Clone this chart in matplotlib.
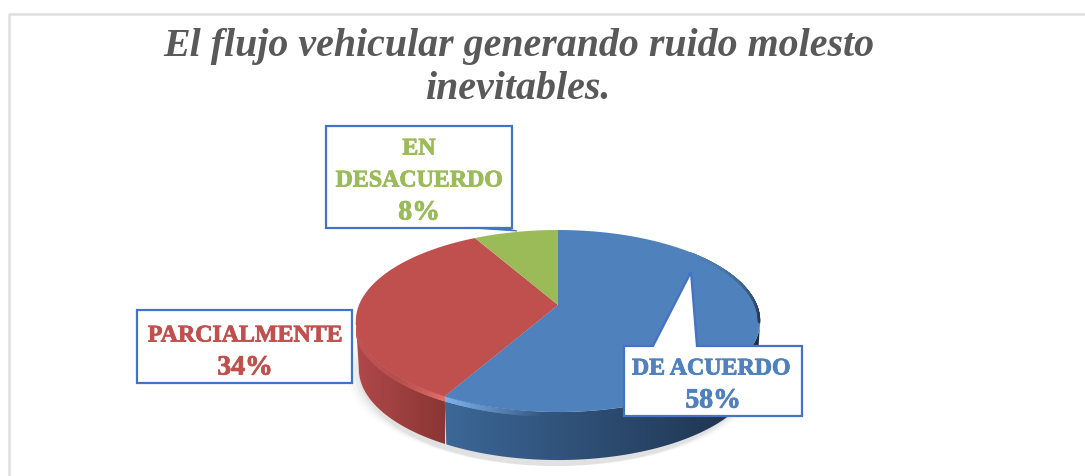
import numpy as np
import matplotlib
matplotlib.use("Agg")
import matplotlib.pyplot as plt
import matplotlib.patheffects as pe
from matplotlib.colors import to_rgb
from matplotlib.patches import Ellipse, Polygon

# datos de la encuesta
categorias = ["DE ACUERDO", "PARCIALMENTE", "EN DESACUERDO"]
porcentajes = [58, 34, 8]
colores = ["#4f81bd", "#c0504d", "#9bbb59"]
lados_claro = ["#3c6797", "#b0484a", "#8aa64e"]
lados_oscuro = ["#1c2f48", "#8a3634", "#6f8a3c"]
titulo = "El flujo vehicular generando ruido molesto\ninevitables."

W, H = 1085, 477
fig = plt.figure(figsize=(W / 100, H / 100), dpi=100)
ax = fig.add_axes([0, 0, 1, 1])

# geometria del pastel (perspectiva simple)
cx, cy = 558, 306
R, A, k = 199, 88.2, 0.176
grosor = 48


def rim(theta, baja=0):
    s, c = np.sin(theta), np.cos(theta)
    w = 1 + k * c
    x = cx + R * s / w
    if baja:
        x = cx + (x - cx) * 0.985
    return x, cy - A * c / w + baja


def mezcla(a, b, f):
    a, b = np.array(to_rgb(a)), np.array(to_rgb(b))
    return tuple(a + (b - a) * np.clip(f, 0, 1))


# marco del grafico
ax.plot([9, 9, W], [H, 15, 15], color="#dedede", lw=1.8, zorder=0)

# sombra debajo del pastel
for ancho, alfa in [(420, 0.025), (412, 0.035), (404, 0.05), (396, 0.07)]:
    ax.add_patch(Ellipse((556, 372), ancho, 190, color="#555555", alpha=alfa, lw=0, zorder=1))

acum = np.cumsum([0] + porcentajes) / 100 * 2 * np.pi

# pared lateral con degradado horizontal
tramos = [(445, 770), (356, 445)]
paredes = []
for i in range(2):
    thetas = np.linspace(acum[i], acum[i + 1], 400)
    thetas = thetas[np.cos(thetas) <= -k]  # solo hasta la tangente vertical
    xa, ya = rim(thetas)
    xb, yb = rim(thetas, grosor)
    pared = Polygon(np.c_[np.r_[xa, xb[::-1]], np.r_[ya, yb[::-1]]], transform=ax.transData,
                    facecolor="none", edgecolor="none")
    ax.add_patch(pared)
    paredes.append(pared)
    grad = np.array([mezcla(lados_claro[i], lados_oscuro[i], f) for f in np.linspace(0, 1, 64)])[None, :, :]
    im = ax.imshow(grad, extent=(tramos[i][0], tramos[i][1], H, 0), aspect="auto", zorder=2,
                   interpolation="bilinear")
    im.set_clip_path(pared)

# bisel del borde frontal, colores opacos para que no se vean costuras
thetas = np.linspace(np.pi * 1.0, 2 * np.pi - np.arccos(-k), 220)
for t0, t1 in zip(thetas[:-1], thetas[1:]):
    x, y = rim(np.array([t0, t1]))
    if (t0 + t1) / 2 > acum[1]:
        base = mezcla(lados_claro[1], lados_oscuro[1], (x[0] - 356) / 89)
        alfa = max(0.3, 1 - abs(x[0] - 445) / 70)
        col = mezcla(base, "#e8706c", alfa)
        pared = paredes[1]
    else:
        base = mezcla(lados_claro[0], lados_oscuro[0], (x[0] - 445) / 325)
        alfa = max(0, 1 - abs(x[0] - 445) / 95)
        col = mezcla(base, "#7fb0e8", alfa)
        pared = paredes[0]
    linea, = ax.plot(x, y + 2.5, color=col, lw=3.5, zorder=2.5, solid_capstyle="round")
    linea.set_clip_path(pared)

# cara superior
caras = []
for i in range(3):
    thetas = np.linspace(acum[i], acum[i + 1], 120)
    xs, ys = rim(thetas)
    caras += ax.fill(np.r_[cx, xs], np.r_[cy, ys], color=colores[i], lw=0, zorder=3)

# sombra oscura en el borde derecho, recortada a la cara azul
thetas = np.linspace(0.85, np.arccos(-k), 100)
for t0, t1 in zip(thetas[:-1], thetas[1:]):
    x, y = rim(np.array([t0, t1]))
    alfa = ((t0 - 0.85) / (thetas[-1] - 0.85)) ** 1.5 * 0.85
    linea, = ax.plot(x, y, color=mezcla(colores[0], "#1c2a3e", alfa), lw=3.5, zorder=4, solid_capstyle="round")
    linea.set_clip_path(caras[0])

# etiquetas con recuadro
borde = "#4472c4"
fuente = "Liberation Serif"


def caja(pts):
    xs, ys = zip(*pts)
    ax.fill(xs, ys, facecolor="white", edgecolor=borde, lw=1.6, zorder=5, joinstyle="miter")


caja([(326, 127), (512, 127), (512, 229), (326, 229)])
ax.fill([465, 517, 500], [228.5, 232, 228.5], facecolor=borde, edgecolor=borde, lw=0.8, zorder=6)
caja([(137, 311), (352, 311), (352, 384), (137, 384)])
caja([(624, 347), (653, 347), (691, 273), (697, 347), (802, 347), (802, 417), (624, 417)])

nombre = dict(ha="center", va="center", family=fuente, weight="bold", fontsize=17.2, zorder=7)
valor = dict(ha="center", va="center", family=fuente, weight="bold", fontsize=20, zorder=7)
etiquetas = [
    ax.text(419, 150, "EN", color=colores[2], **nombre),
    ax.text(419, 182, "DESACUERDO", color=colores[2], **nombre),
    ax.text(419, 214, f"{porcentajes[2]}%", color=colores[2], **valor),
    ax.text(245, 337, categorias[1], color=colores[1], **nombre),
    ax.text(245, 369, f"{porcentajes[1]}%", color=colores[1], **valor),
    ax.text(711, 370, categorias[0], color=colores[0], **nombre),
    ax.text(713, 402, f"{porcentajes[0]}%", color=colores[0], **valor),
]
for t in etiquetas:
    t.set_path_effects([pe.withStroke(linewidth=0.6, foreground=t.get_color())])

ax.text(519, 68, titulo, ha="center", va="center", family=fuente, weight="bold", style="italic",
        fontsize=28.7, color="#595959", linespacing=1.22, zorder=7)

ax.set_xlim(0, W)
ax.set_ylim(H, 0)
ax.axis("off")

fig.savefig("out.png", dpi=100)
